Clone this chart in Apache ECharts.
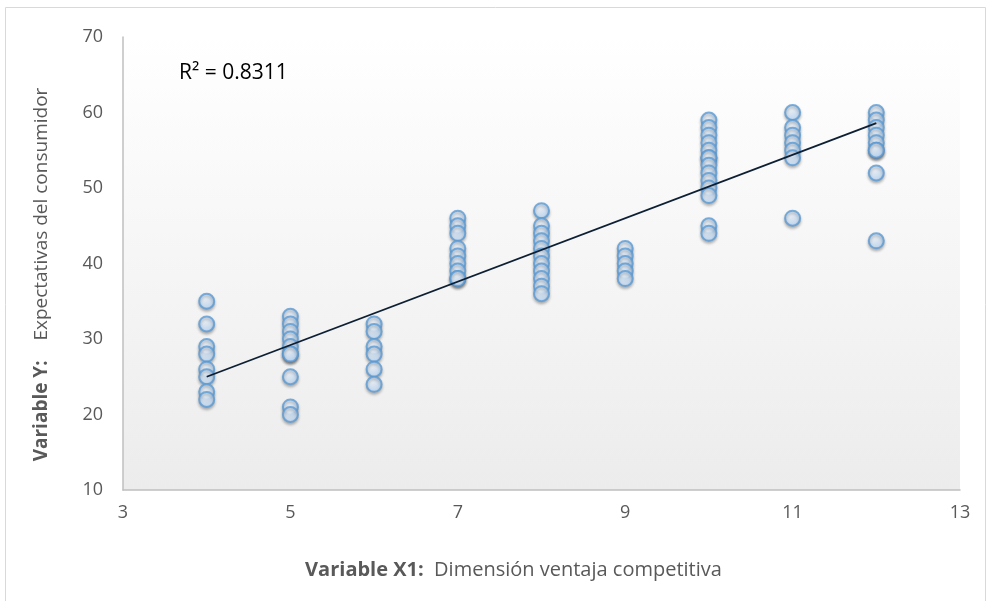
<!DOCTYPE html>
<html>
<head>
<meta charset="utf-8">
<script src="https://cdn.jsdelivr.net/npm/echarts@6/dist/echarts.min.js"></script>
<style>
  html, body { margin: 0; padding: 0; background: #fff; }
  #chart { width: 986px; height: 601px; }
</style>
</head>
<body>
<div id="chart"></div>
<script>
// puntos: una lista de Y por cada valor de X1
const xValues = [4, 5, 6, 7, 8, 9, 10, 11, 12]
const yByX = [
  [35, 32, 29, 28, 26, 25, 23, 22],
  [33, 32, 31, 30, 29, 28, 28, 25, 21, 20],
  [32, 31, 29, 28, 26, 24],
  [46, 45, 44, 42, 41, 40, 39, 38, 38],
  [47, 45, 44, 43, 42, 41, 40, 39, 38, 37, 36],
  [42, 41, 40, 39, 38],
  [59, 58, 57, 56, 55, 54, 54, 53, 52, 51, 50, 49, 45, 44],
  [60, 58, 57, 56, 55, 54, 46],
  [60, 59, 58, 57, 56, 55, 55, 52, 43]
]
// línea de tendencia (extremos leídos)
const trendX = [4, 12]
const trendY = [25.0, 58.6]
const rSquared = 'R² = 0.8311'

const points = []
xValues.forEach((x, i) => {
  yByX[i].forEach(y => points.push([x, y]))
})

const chart = echarts.init(document.getElementById('chart'))
const labelColor = '#595959'
const font = 'Open Sans'

chart.setOption({
  animation: false,
  textStyle: { fontFamily: font },
  grid: {
    left: 123, right: 26, top: 37, bottom: 111,
    show: true,
    borderWidth: 0,
    backgroundColor: new echarts.graphic.LinearGradient(0, 0, 0, 1, [
      { offset: 0, color: '#ffffff' },
      { offset: 1, color: '#ececec' }
    ])
  },
  title: {
    text: rSquared,
    left: 174, top: 58,
    textStyle: { fontSize: 21, fontWeight: 'normal', color: '#000', fontFamily: font }
  },
  graphic: [{
    type: 'rect',
    shape: { x: 5.5, y: 7.5, width: 980, height: 600 },
    style: { fill: 'none', stroke: '#d9d9d9', lineWidth: 1 },
    silent: true
  }],
  xAxis: {
    type: 'value',
    min: 3, max: 13, interval: 2,
    splitLine: { show: false },
    axisTick: { show: false },
    axisLine: { show: true, lineStyle: { color: '#bfbfbf', width: 1.5 } },
    axisLabel: { color: labelColor, fontSize: 18, margin: 14 },
    name: '{b|Variable X1:}  Dimensión ventaja competitiva',
    nameLocation: 'middle',
    nameGap: 70,
    nameTextStyle: {
      color: labelColor, fontSize: 20,
      padding: [0, 56, 0, 0],
      rich: { b: { fontWeight: 'bold', color: labelColor, fontSize: 20 } }
    }
  },
  yAxis: {
    type: 'value',
    min: 10, max: 70, interval: 10,
    splitLine: { show: false },
    axisTick: { show: false },
    axisLine: { show: true, lineStyle: { color: '#bfbfbf', width: 1.5 } },
    axisLabel: { color: labelColor, fontSize: 18, margin: 20 },
    name: '{b|Variable Y:}    Expectativas del consumidor',
    nameLocation: 'middle',
    nameGap: 72,
    nameTextStyle: {
      color: labelColor, fontSize: 19,
      padding: [0, 22, 0, 0],
      rich: { b: { fontWeight: 'bold', color: labelColor, fontSize: 19 } }
    }
  },
  series: [
    {
      type: 'scatter',
      data: points,
      symbol: 'circle',
      symbolSize: 15,
      itemStyle: {
        color: new echarts.graphic.RadialGradient(0.4, 0.35, 0.75, [
          { offset: 0, color: '#f2f8ff' },
          { offset: 1, color: '#b2d4f8' }
        ]),
        borderColor: '#5b9bd5',
        borderWidth: 2,
        shadowBlur: 3,
        shadowOffsetY: 2,
        shadowColor: 'rgba(0,0,0,0.3)'
      }
    },
    {
      type: 'line',
      data: trendX.map((x, i) => [x, trendY[i]]),
      symbol: 'none',
      lineStyle: { color: '#0d1f33', width: 1.8 },
      z: 5
    }
  ]
})
</script>
</body>
</html>
